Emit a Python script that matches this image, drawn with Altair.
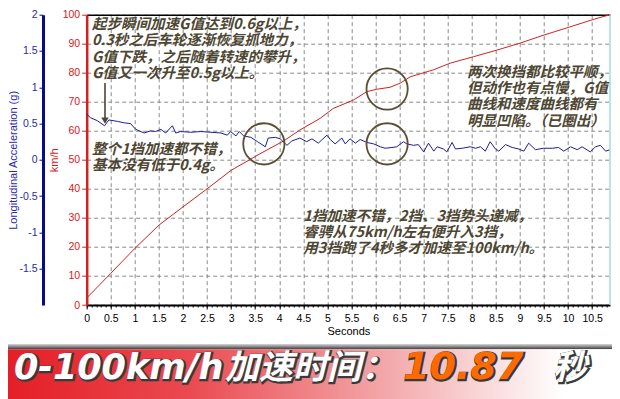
import altair as alt
import pandas as pd

# ---------------- data ----------------
speed_t = [0.0, 0.5, 1.0, 1.5, 2.0, 2.5, 3.0, 3.6, 4.1, 4.43, 4.85, 5.12, 5.54, 5.82,
           6.02, 6.30, 6.51, 6.72, 7.2, 7.55, 8.03, 8.52, 9.0, 9.5, 10.0, 10.55, 10.87]
speed_kmh = [2.4, 10.9, 19.5, 27.5, 33.8, 40.0, 46.4, 52.1, 56.6, 60.3, 64.3, 67.7, 70.6, 73.5,
             74.3, 75.0, 76.4, 78.6, 81.0, 83.3, 85.5, 87.8, 90.2, 93.0, 95.6, 98.5, 100.0]

accel_t = [0.00, 0.08, 0.22, 0.37, 0.46, 0.64, 0.78, 0.91, 1.02, 1.19, 1.33, 1.43, 1.54, 1.64,
           1.78, 1.85, 1.95, 2.16, 2.37, 2.58, 2.79, 2.92, 2.99, 3.10, 3.17, 3.26, 3.41, 3.55,
           3.71, 3.77, 3.92, 4.02, 4.16, 4.26, 4.43, 4.57, 4.68, 4.81, 4.99, 5.06, 5.16, 5.30,
           5.37, 5.47, 5.58, 5.68, 5.82, 5.96, 6.10, 6.20, 6.34, 6.44, 6.58, 6.65, 6.79, 6.89,
           7.00, 7.10, 7.21, 7.28, 7.41, 7.48, 7.59, 7.66, 7.80, 7.97, 8.08, 8.18, 8.28, 8.38,
           8.49, 8.56, 8.70, 8.84, 8.97, 9.08, 9.18, 9.32, 9.49, 9.67, 9.80, 9.91, 10.05, 10.19,
           10.29, 10.46, 10.57, 10.67, 10.78, 10.87]
accel_g = [0.63, 0.58, 0.54, 0.47, 0.55, 0.53, 0.51, 0.50, 0.42, 0.37, 0.40, 0.39, 0.42, 0.37,
           0.47, 0.37, 0.39, 0.38, 0.39, 0.38, 0.37, 0.34, 0.39, 0.33, 0.39, 0.33, 0.31, 0.25,
           0.18, 0.30, 0.31, 0.29, 0.20, 0.26, 0.30, 0.25, 0.29, 0.23, 0.34, 0.28, 0.22, 0.30,
           0.22, 0.29, 0.23, 0.28, 0.24, 0.22, 0.18, 0.16, 0.17, 0.18, 0.25, 0.22, 0.20, 0.21,
           0.11, 0.23, 0.12, 0.18, 0.15, 0.11, 0.24, 0.15, 0.16, 0.18, 0.16, 0.18, 0.12, 0.25,
           0.15, 0.12, 0.21, 0.17, 0.15, 0.12, 0.23, 0.14, 0.16, 0.16, 0.17, 0.12, 0.18, 0.14,
           0.18, 0.11, 0.18, 0.20, 0.12, 0.14]

x_tick_values = [0, 0.5, 1, 1.5, 2, 2.5, 3, 3.5, 4, 4.5, 5, 5.5, 6, 6.5, 7, 7.5, 8, 8.5,
                 9, 9.5, 10, 10.5]
kmh_tick_values = [0, 10, 20, 30, 40, 50, 60, 70, 80, 90, 100]
g_tick_values = [2, 1.5, 1, 0.5, 0, -0.5, -1, -1.5]

# circled spots (seconds, km/h)
circle_t = [3.68, 6.24, 6.24]
circle_v = [55.5, 55.5, 74.4]

# arrow (seconds, km/h)
arrow_t = [0.38]
arrow_top = [76.5]
arrow_bottom = [63.5]

# annotation blocks: anchor (seconds, km/h of the first line) and their lines
note_t = [0.11, 0.11, 7.90, 4.50]
note_v = [96.4, 53.4, 79.9, 30.3]
note_lines = [
    ["起步瞬间加速G值达到0.6g以上，",
     "0.3秒之后车轮逐渐恢复抓地力，",
     "G值下跌，之后随着转速的攀升，",
     "G值又一次升至0.5g以上。"],
    ["整个1挡加速都不错，",
     "基本没有低于0.4g。"],
    ["两次换挡都比较平顺，",
     "但动作也有点慢，G值",
     "曲线和速度曲线都有",
     "明显凹陷。（已圈出）"],
    ["1挡加速不错，2挡、3挡势头递减，",
     "睿骋从75km/h左右便升入3挡，",
     "用3挡跑了4秒多才加速至100km/h。"],
]

banner_parts = ["0-100km/h", "加速时间：", "10.87", "秒"]

# ---------------- chart ----------------
W, H = 523.3, 290.3
PAD_L, PAD_T, PAD_R, PAD_B = 78.7, 6.7, 2, 94

RED = "#d42020"
BLUE = "#1c1c9c"
BLUE_AX = "#0a0a8c"
NOTE = "#4d4632"
LATIN = "Liberation Sans"

xs = alt.Scale(domain=[0, 10.87], nice=False, zero=False)
ys_kmh = alt.Scale(domain=[0, 100], nice=False)
ys_g = alt.Scale(domain=[-2, 2], nice=False)

speed_df = pd.DataFrame({"t": speed_t, "kmh": speed_kmh})
accel_df = pd.DataFrame({"t": accel_t, "g": accel_g})
circle_df = pd.DataFrame({"t": circle_t, "v": circle_v})
arrow_df = pd.DataFrame({"t": arrow_t, "top": arrow_top, "bottom": arrow_bottom})
note_df = pd.DataFrame({"t": note_t, "v": note_v,
                        "text": ["\n".join(lines) for lines in note_lines]})

x_main_axis = alt.Axis(
    orient="bottom", values=x_tick_values, format="~g", title="Seconds",
    grid=True, gridDash=[4, 3], gridColor="#8a8a8a", gridWidth=1,
    domainColor="#000000", domainWidth=2, tickColor="#000000", tickSize=4,
    labelColor="#000000", labelFont=LATIN, labelFontSize=10.5, labelPadding=4,
    labelFlush=False, labelOverlap=False,
    titleFont=LATIN, titleFontSize=11, titleFontWeight="normal", titleColor="#000000",
    titlePadding=2,
)
y_kmh_axis = alt.Axis(
    orient="left", values=kmh_tick_values, title="km/h",
    grid=True, gridDash=[4, 3], gridColor="#8a8a8a", gridWidth=1,
    domainColor=RED, domainWidth=2.5, tickColor=RED, tickSize=5,
    labelColor=RED, labelFont=LATIN, labelFontSize=10.5, labelPadding=2,
    labelFlush=False, labelOverlap=False,
    titleColor=RED, titleFont=LATIN, titleFontSize=11, titleFontWeight="normal",
    titlePadding=3,
)
y_g_axis = alt.Axis(
    orient="left", offset=43.7, values=g_tick_values, format="~g",
    labelExpr="replace(datum.label, '\u2212', '-')",
    grid=False, domainColor=BLUE_AX, domainWidth=3, tickColor=BLUE_AX, tickSize=4,
    labelColor="#2a2aa8", labelFont=LATIN, labelFontSize=10.5, labelPadding=2,
    labelFlush=False, labelOverlap=False,
    title="Longitudinal Acceleration (g)", titleColor="#2a2aa8", titleFont=LATIN,
    titleFontSize=11, titleFontWeight="normal", titlePadding=0,
)

speed_line = alt.Chart(speed_df).mark_line(color=RED, strokeWidth=1).encode(
    x=alt.X("t:Q", scale=xs, axis=x_main_axis),
    y=alt.Y("kmh:Q", scale=ys_kmh, axis=y_kmh_axis),
)

accel_line = alt.Chart(accel_df).mark_line(color=BLUE, strokeWidth=1).encode(
    x=alt.X("t:Q", scale=xs, axis=alt.Axis(orient="top", labels=False, ticks=False, grid=False,
                                          title=None, domainColor="#000000", domainWidth=1.5)),
    y=alt.Y("g:Q", scale=ys_g, axis=y_g_axis),
)

circles = alt.Chart(circle_df).mark_point(
    shape="circle", size=1700, filled=False, stroke="#5a4e35", strokeWidth=1.8, opacity=1
).encode(
    x=alt.X("t:Q", scale=xs, axis=alt.Axis(orient="bottom", values=[i / 10 for i in range(109)],
                                          labels=False, tickSize=2, tickColor="#000000",
                                          domain=False, grid=False, title=None)),
    y=alt.Y("v:Q", scale=ys_kmh, axis=None),
)

arrow_rule = alt.Chart(arrow_df).mark_rule(color=NOTE, strokeWidth=1.6).encode(
    x=alt.X("t:Q", scale=xs, axis=None),
    y=alt.Y("top:Q", scale=ys_kmh, axis=None),
    y2="bottom:Q",
)
arrow_head = alt.Chart(arrow_df).mark_point(
    shape="triangle-down", size=55, filled=True, color=NOTE, opacity=1
).encode(
    x=alt.X("t:Q", scale=xs, axis=None),
    y=alt.Y("bottom:Q", scale=ys_kmh, axis=None),
)

notes = alt.Chart(note_df).mark_text(
    align="left", baseline="middle", font="Noto Sans CJK SC", fontSize=14.5,
    fontStyle="italic", fontWeight="bold", color=NOTE, lineBreak="\n", lineHeight=16.2
).encode(
    x=alt.X("t:Q", scale=xs, axis=None),
    y=alt.Y("v:Q", scale=ys_kmh, axis=None),
    text="text:N",
)

one = pd.DataFrame({"k": [0]})
right_edge = alt.Chart(one).mark_rule(color="#9fdede", strokeWidth=1.5).encode(
    x=alt.value(W), y=alt.value(0), y2=alt.value(H)
)

gray_bar = alt.Chart(one).mark_rect(
    fill=alt.LinearGradient(gradient="linear", x1=0, x2=0, y1=0, y2=1,
                            stops=[alt.GradientStop(color="#d8d8d8", offset=0),
                                   alt.GradientStop(color="#3c3c3c", offset=1)])
).encode(x=alt.value(-PAD_L), x2=alt.value(W + PAD_R), y=alt.value(329.3), y2=alt.value(334.5))

red_bar = alt.Chart(one).mark_rect(
    fill=alt.LinearGradient(gradient="linear", x1=0, x2=1, y1=0, y2=0,
                            stops=[alt.GradientStop(color="#e41e26", offset=0),
                                   alt.GradientStop(color="#ea4a50", offset=0.3),
                                   alt.GradientStop(color="#f3a6a8", offset=0.62),
                                   alt.GradientStop(color="#ffffff", offset=0.92)])
).encode(x=alt.value(-PAD_L), x2=alt.value(W + PAD_R), y=alt.value(334.5), y2=alt.value(400))


def banner_text(idx, x, font, size, color):
    df = pd.DataFrame({"s": [banner_parts[idx]]})
    shadow = alt.Chart(df).mark_text(
        align="left", baseline="alphabetic", font=font, fontSize=size, fontWeight="bold",
        fontStyle="italic", fill="#3a3a3a", stroke="#3a3a3a", strokeWidth=2.5, dx=1, dy=1
    ).encode(x=alt.value(x), y=alt.value(364.3), text="s:N")
    front = alt.Chart(df).mark_text(
        align="left", baseline="alphabetic", font=font, fontSize=size, fontWeight="bold",
        fontStyle="italic", fill=color
    ).encode(x=alt.value(x), y=alt.value(364.3), text="s:N")
    return [shadow, front]


CJK = "Noto Sans CJK SC"
banner_layers = (banner_text(0, -72.7, "DejaVu Sans", 35, "#ffffff")
                 + banner_text(1, 138.3, CJK, 34, "#ffffff")
                 + banner_text(2, 316.3, "DejaVu Sans", 38, "#ff6a00")
                 + banner_text(3, 466.3, CJK, 34, "#ffffff"))

chart = alt.layer(
    gray_bar, red_bar, speed_line, accel_line, circles, arrow_rule, arrow_head, notes,
    right_edge, *banner_layers
).resolve_scale(
    y="independent"
).resolve_axis(
    x="independent", y="independent"
).properties(
    width=W, height=H,
    padding={"left": PAD_L, "top": PAD_T, "right": PAD_R, "bottom": PAD_B},
    autosize=alt.AutoSizeParams(type="none"),
    background="#ffffff",
).configure_view(stroke=None)

chart.save("out.html", embed_options={"renderer": "svg", "actions": False})
